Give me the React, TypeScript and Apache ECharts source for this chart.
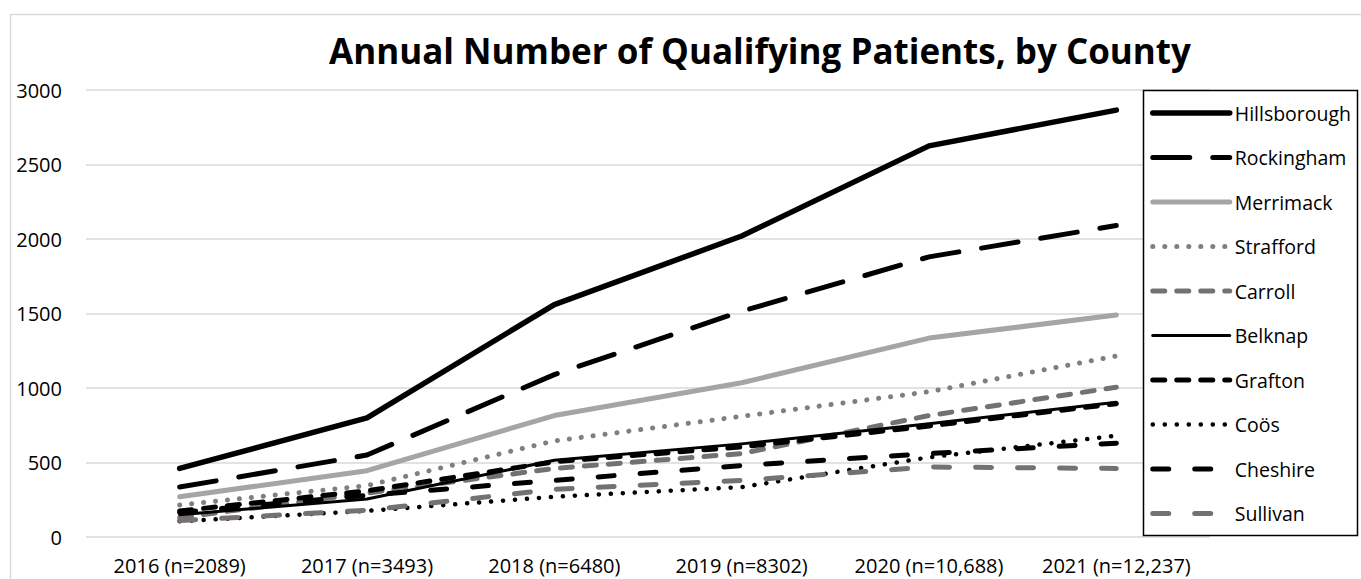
import React, { useEffect, useRef } from "react";
import * as echarts from "echarts";

const categories = [
  "2016 (n=2089)",
  "2017 (n=3493)",
  "2018 (n=6480)",
  "2019 (n=8302)",
  "2020 (n=10,688)",
  "2021 (n=12,237)",
];

const hillsborough = [460, 800, 1560, 2020, 2625, 2865];
const rockingham = [335, 550, 1090, 1515, 1880, 2090];
const merrimack = [270, 445, 815, 1035, 1335, 1490];
const strafford = [215, 345, 645, 810, 975, 1215];
const carroll = [130, 295, 460, 560, 815, 1005];
const belknap = [150, 255, 515, 625, 760, 905];
const grafton = [175, 310, 505, 605, 745, 895];
const coos = [105, 175, 270, 335, 535, 680];
const cheshire = [165, 280, 380, 480, 560, 630];
const sullivan = [110, 180, 320, 380, 470, 460];

const yTicks = { min: 0, max: 3000, interval: 500 };

const FONT = "'Open Sans', 'Noto Sans', sans-serif";

type Def = { name: string; data: number[]; color: string; width: number; type: any };

const defs: Def[] = [
  { name: "Hillsborough", data: hillsborough, color: "#000000", width: 5.5, type: "solid" },
  { name: "Rockingham", data: rockingham, color: "#000000", width: 5, type: [37, 23] },
  { name: "Merrimack", data: merrimack, color: "#a5a5a5", width: 5, type: "solid" },
  { name: "Strafford", data: strafford, color: "#7f7f7f", width: 5, type: [0.1, 11.9] },
  { name: "Carroll", data: carroll, color: "#767171", width: 5, type: [12, 12] },
  { name: "Belknap", data: belknap, color: "#000000", width: 3, type: "solid" },
  { name: "Grafton", data: grafton, color: "#000000", width: 5, type: [12, 12] },
  { name: "Coös", data: coos, color: "#000000", width: 4.5, type: [0.1, 11.9] },
  { name: "Cheshire", data: cheshire, color: "#000000", width: 5, type: [16, 26] },
  { name: "Sullivan", data: sullivan, color: "#767171", width: 5, type: [16, 26] },
];

export default function App() {
  const ref = useRef<HTMLDivElement>(null);
  useEffect(() => {
    if (!ref.current) return;
    const chart = echarts.init(ref.current, undefined, { renderer: "svg" });
    chart.setOption({
      animation: false,
      backgroundColor: "#ffffff",
      textStyle: { fontFamily: FONT },
      graphic: [
        {
          type: "rect",
          shape: { x: 10.5, y: 14.5, width: 1400, height: 700 },
          style: { fill: "none", stroke: "#d9d9d9", lineWidth: 1.5 },
          silent: true,
          z: -10,
        },
        {
          type: "rect",
          shape: { x: 1143.5, y: 90.5, width: 214, height: 445 },
          style: { fill: "#ffffff", stroke: "#000000", lineWidth: 1.5 },
          silent: true,
          z: 5,
        },
        {
          type: "text",
          x: 760,
          y: 50,
          style: {
            text: "Annual Number of Qualifying Patients, by County",
            font: `bold 35px ${FONT}`,
            fill: "#000000",
            textAlign: "center",
            textVerticalAlign: "middle",
          },
          z: 10,
        },
      ],
      grid: { left: 86, right: 151, top: 90, bottom: 42, containLabel: false },
      legend: {
        orient: "vertical",
        left: 1150,
        top: 103,
        padding: 0,
        itemWidth: 77,
        itemHeight: 14,
        itemGap: 24.5,
        z: 20,
        selectedMode: false,
        textStyle: { fontFamily: FONT, fontSize: 19.5, color: "#000000" },
        lineStyle: { width: "inherit" },
        itemStyle: { color: "rgba(0,0,0,0)", borderWidth: 0, opacity: 0 },
        data: defs.map((d) => ({ name: d.name })),
      },
      xAxis: {
        type: "category",
        data: categories,
        boundaryGap: true,
        axisLine: { show: false },
        axisTick: { show: false },
        axisLabel: { fontFamily: FONT, fontSize: 20, color: "#000000", margin: 18, interval: 0 },
      },
      yAxis: {
        type: "value",
        min: yTicks.min,
        max: yTicks.max,
        interval: yTicks.interval,
        axisLine: { show: false },
        axisTick: { show: false },
        axisLabel: {
          fontFamily: FONT,
          fontSize: 20,
          color: "#000000",
          margin: 24,
          formatter: (v: number) => String(v),
        },
        splitLine: { lineStyle: { color: "#d9d9d9", width: 1.5 } },
      },
      series: defs.map((d) => ({
        name: d.name,
        type: "line",
        data: d.data,
        symbol: "none",
        showSymbol: false,
        color: d.color,
        lineStyle: { color: d.color, width: d.width, type: d.type, cap: "round", join: "round" },
      })),
    });
    return () => chart.dispose();
  }, []);
  return <div ref={ref} style={{ position: "fixed", left: 0, top: 0, width: 1361, height: 579 }} />;
}
